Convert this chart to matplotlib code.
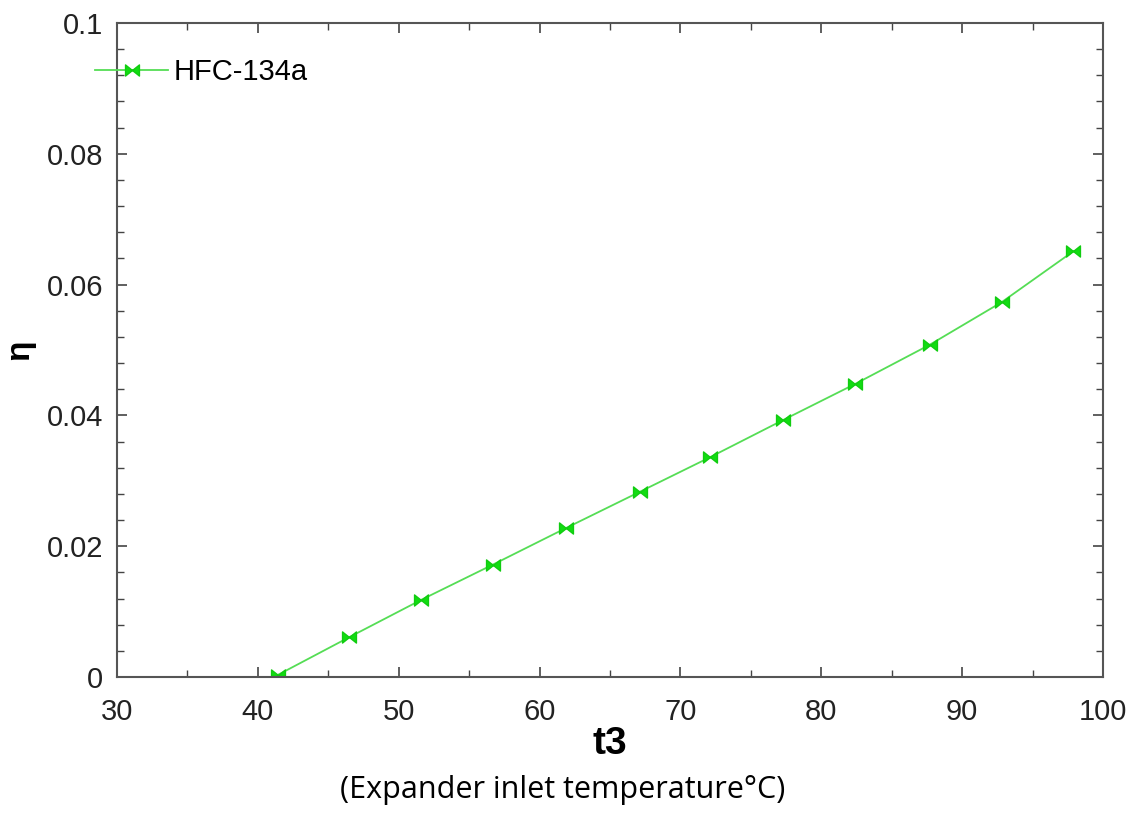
import matplotlib
matplotlib.use("Agg")
import matplotlib.pyplot as plt
from matplotlib.path import Path
from matplotlib.ticker import MultipleLocator

# expander inlet temperature (t3) and efficiency
t3 = [41.4, 46.5, 51.6, 56.7, 61.9, 67.1, 72.1, 77.3, 82.4, 87.7, 92.8, 97.9]
eta = [0.0003, 0.0061, 0.0118, 0.0172, 0.0228, 0.0283,
       0.0336, 0.0393, 0.0448, 0.0508, 0.0573, 0.0651]
series_name = "HFC-134a"

plt.rcParams['font.family'] = ['Liberation Sans', 'DejaVu Sans']

# bowtie marker: two triangles meeting in the middle
bowtie = Path([(-1, -0.8), (-1, 0.8), (0, 0), (-1, -0.8),
               (1, -0.8), (1, 0.8), (0, 0), (1, -0.8)],
              [Path.MOVETO, Path.LINETO, Path.LINETO, Path.CLOSEPOLY,
               Path.MOVETO, Path.LINETO, Path.LINETO, Path.CLOSEPOLY])

fig = plt.figure(figsize=(11.42, 8.13), dpi=100)
ax = fig.add_axes([0.1025, 0.1673, 0.8633, 0.8044])

ax.plot(t3, eta, color='#55dd55', lw=1.3, marker=bowtie, markersize=10,
        markerfacecolor='#11dd11', markeredgecolor='#11cc11', label=series_name)

ax.set_xlim(30, 100)
ax.set_ylim(0, 0.1)
ax.xaxis.set_major_locator(MultipleLocator(10))
ax.xaxis.set_minor_locator(MultipleLocator(5))
ax.yaxis.set_minor_locator(MultipleLocator(0.004))
ax.set_yticks([0, 0.02, 0.04, 0.06, 0.08, 0.1])
ax.set_yticklabels(['0', '0.02', '0.04', '0.06', '0.08', '0.1'])

ax.tick_params(which='both', direction='in', top=True, right=True,
               color='#444444', labelsize=21, labelcolor='#222222')
ax.tick_params(which='major', length=7, width=1.2)
ax.tick_params(which='minor', length=5, width=1.0)
ax.tick_params(axis='x', pad=15)
ax.tick_params(axis='y', pad=10)
for sp in ax.spines.values():
    sp.set_color('#555555')
    sp.set_linewidth(1.5)

ax.set_xlabel('t3', fontsize=28, fontweight='bold', labelpad=0)
ax.set_ylabel('η', fontsize=24, fontweight='bold', labelpad=8)

ax.legend(loc='center left', bbox_to_anchor=(-0.0223, 0.925), frameon=False,
          fontsize=21, handlelength=2.5, handletextpad=0.2,
          borderpad=0, borderaxespad=0)

fig.text(0.493, 0.028, '(Expander inlet temperature°C)', fontsize=22,
         family=['Open Sans', 'DejaVu Sans'], ha='center', va='center')

fig.savefig('out.png', dpi=100)
